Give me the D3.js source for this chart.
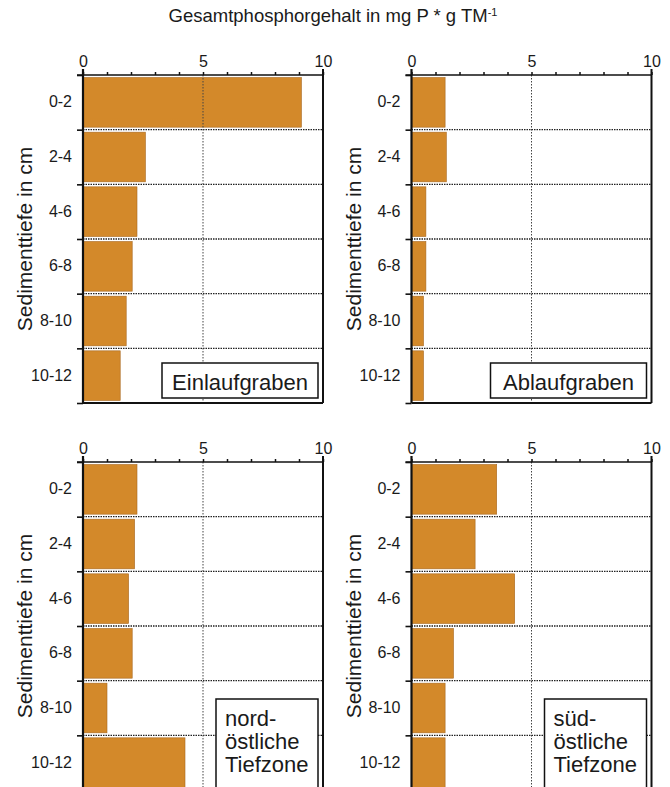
<!DOCTYPE html>
<html>
<head>
<meta charset="utf-8">
<script src="https://cdn.jsdelivr.net/npm/d3@7"></script>
<style>
  body { margin: 0; background: #fff; }
  svg { display: block; font-family: "Liberation Sans", Arial, Helvetica, sans-serif; }
</style>
</head>
<body>
<svg width="670" height="787"></svg>
<script>
// data (mg P / g TM)
var depths = ["0-2", "2-4", "4-6", "6-8", "8-10", "10-12"];
var einlauf = [9.1, 2.6, 2.25, 2.05, 1.8, 1.55];
var ablauf = [1.4, 1.45, 0.6, 0.6, 0.5, 0.5];
var nordost = [2.25, 2.15, 1.9, 2.05, 1.0, 4.25];
var suedost = [3.55, 2.65, 4.3, 1.75, 1.4, 1.4];
var xTickLabels = [0, 5, 10];
var panelLabels = [["Einlaufgraben"], ["Ablaufgraben"], ["nord-", "östliche", "Tiefzone"], ["süd-", "östliche", "Tiefzone"]];

var svg = d3.select('svg');
var barColor = '#d3892a';
var plotW = 240, plotH = 328;
var panels = [
  {left: 83, top: 75, values: einlauf, label: panelLabels[0]},
  {left: 411.5, top: 75, values: ablauf, label: panelLabels[1]},
  {left: 83, top: 462, values: nordost, label: panelLabels[2]},
  {left: 411.5, top: 462, values: suedost, label: panelLabels[3]}
];

svg.append('rect').attr('width', 670).attr('height', 787).attr('fill', '#fff');

// title
var title = svg.append('text')
  .attr('x', 333).attr('y', 22)
  .attr('text-anchor', 'middle')
  .style('font-size', '18.5px')
  .attr('fill', '#1a1a1a');
title.append('tspan').text('Gesamtphosphorgehalt  in mg P * g TM');
title.append('tspan').attr('dy', -6).style('font-size', '11px').text('-1');

panels.forEach(function(p) {
  var g = svg.append('g').attr('transform', 'translate(' + p.left + ',' + p.top + ')');
  var x = d3.scaleLinear().domain([0, 10]).range([0, plotW]);
  var yb = d3.scaleBand().domain(depths).range([0, plotH]);
  var yl = d3.scaleLinear().domain([0, depths.length]).range([0, plotH]);

  // bars
  g.selectAll('.bar')
    .data(p.values)
    .enter()
    .append('rect')
    .attr('class', 'bar')
    .attr('x', 0)
    .attr('y', (d, i) => yb(depths[i]) + 2.5)
    .attr('width', d => x(d))
    .attr('height', yb.bandwidth() - 5)
    .attr('fill', barColor)
    .attr('stroke', '#a8681f')
    .attr('stroke-width', 0.6);

  // dotted grid: row boundaries and x=5
  g.selectAll('.hgrid')
    .data(d3.range(1, depths.length))
    .enter()
    .append('line')
    .attr('x1', 0).attr('x2', plotW)
    .attr('y1', d => yl(d)).attr('y2', d => yl(d))
    .attr('stroke', '#222')
    .attr('stroke-width', 1.4)
    .attr('stroke-dasharray', '1.5,1');
  g.append('line')
    .attr('x1', x(5)).attr('x2', x(5))
    .attr('y1', 0).attr('y2', plotH)
    .attr('stroke', '#444')
    .attr('stroke-width', 1)
    .attr('stroke-dasharray', '1.5,1.5');

  // top axis
  var xAxis = d3.axisTop(x)
    .tickValues(d3.range(0, 11))
    .tickSize(3)
    .tickSizeOuter(0)
    .tickFormat(d => xTickLabels.indexOf(d) >= 0 ? d : '');
  var ax = g.append('g').call(xAxis);
  ax.select('.domain').remove();
  ax.selectAll('line').attr('stroke', '#111').attr('stroke-width', 1.5);
  ax.selectAll('text')
    .attr('y', -8)
    .style('font-size', '16px')
    .style('font-family', '"Liberation Sans", Arial, sans-serif')
    .attr('fill', '#1a1a1a');
  g.append('line')
    .attr('x1', -6).attr('x2', plotW)
    .attr('y1', 0).attr('y2', 0)
    .attr('stroke', '#111').attr('stroke-width', 1.6);

  // left axis: boundary ticks
  var yAxis = d3.axisLeft(yl).tickValues(d3.range(0, depths.length + 1)).tickSize(6).tickFormat('');
  var ay = g.append('g').call(yAxis);
  ay.select('.domain').remove();
  ay.selectAll('line').attr('stroke', '#111').attr('stroke-width', 1.6);
  g.append('line')
    .attr('x1', 0).attr('x2', 0)
    .attr('y1', -6).attr('y2', plotH)
    .attr('stroke', '#111').attr('stroke-width', 2.2);

  // depth labels
  var labAxis = d3.axisLeft(yb).tickSize(0).tickPadding(11);
  var al = g.append('g').call(labAxis);
  al.select('.domain').remove();
  al.selectAll('text')
    .style('font-size', '16px')
    .style('font-family', '"Liberation Sans", Arial, sans-serif')
    .attr('fill', '#1a1a1a');

  // right and bottom border
  g.append('line')
    .attr('x1', plotW).attr('x2', plotW)
    .attr('y1', -6).attr('y2', plotH)
    .attr('stroke', '#111').attr('stroke-width', 2);
  g.append('line')
    .attr('x1', 0).attr('x2', plotW)
    .attr('y1', plotH).attr('y2', plotH)
    .attr('stroke', '#111').attr('stroke-width', 2);

  // y title
  g.append('text')
    .attr('transform', 'rotate(-90)')
    .attr('x', -plotH / 2)
    .attr('y', -51)
    .attr('text-anchor', 'middle')
    .style('font-size', '21px')
    .attr('fill', '#1a1a1a')
    .text('Sedimenttiefe in cm');

  // panel label box
  var lines = p.label;
  var boxH = lines.length == 1 ? 35 : 90;
  var boxW = lines.length == 1 ? 156 : 102;
  var bx = plotW - 5 - boxW;
  var by = lines.length == 1 ? plotH - 40 : plotH - 91;
  g.append('rect')
    .attr('x', bx).attr('y', by)
    .attr('width', boxW).attr('height', boxH)
    .attr('fill', '#fff')
    .attr('stroke', '#111')
    .attr('stroke-width', 1.5);
  lines.forEach(function(t, i) {
    g.append('text')
      .attr('x', lines.length == 1 ? bx + boxW / 2 : bx + 9)
      .attr('y', by + 27 + i * 23)
      .attr('text-anchor', lines.length == 1 ? 'middle' : 'start')
      .style('font-size', '22px')
      .attr('fill', '#1a1a1a')
      .text(t);
  });
});
</script>
</body>
</html>
